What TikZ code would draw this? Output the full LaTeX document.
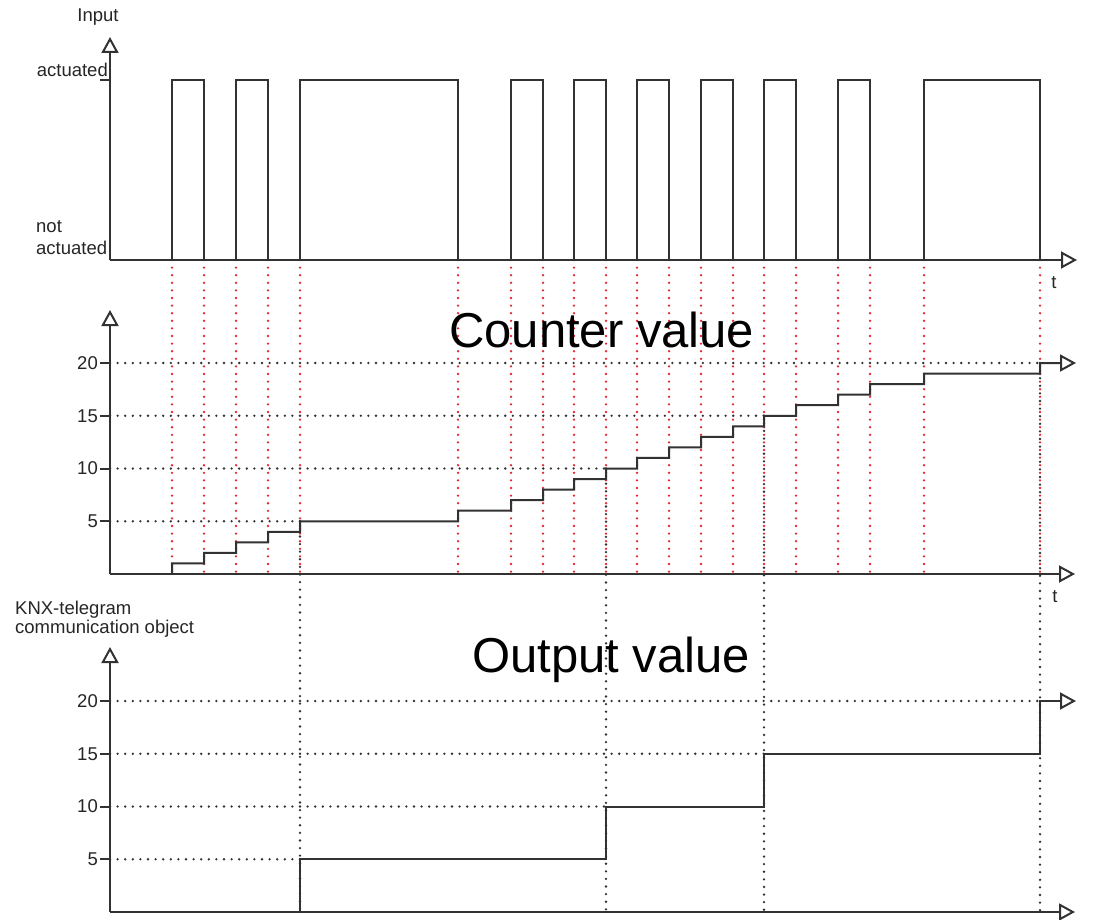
\documentclass[tikz,border=0pt]{standalone}
\usepackage{fontspec}
\setmainfont{Liberation Sans}
\usetikzlibrary{arrows.meta}

\definecolor{linegray}{RGB}{50,50,50}
\definecolor{dotred}{RGB}{228,40,50}

\tikzstyle{axisline} = [draw=linegray, line width=2pt,
    -{Triangle[open, length=16pt, width=17pt]}]
\tikzstyle{stepline} = [draw=linegray, line width=2pt]
\tikzstyle{gridline} = [draw=linegray, line width=2.6pt, line cap=round,
    dash pattern=on 0pt off 7.6pt]
\tikzstyle{edgeline} = [gridline, draw=dotred]
\tikzstyle{ticklabel} = [font=\fontsize{18.5}{21}\selectfont, inner sep=0pt, text=black!85]
\tikzstyle{charttitle} = [font=\fontsize{49}{58}\selectfont, inner sep=0pt]

\begin{document}
\begin{tikzpicture}[x=1pt, y=-1pt]
    \useasboundingbox [fill=white] (0,0) rectangle (1108,920);
    % origins and axis ends
    \coordinate (in0) at (110,260);
    \coordinate (inY) at (110,37);
    \coordinate (inX) at (1077,260);
    \coordinate (cnt0) at (110,574);
    \coordinate (cntY) at (110,310);
    \coordinate (cntX) at (1075,574);
    \coordinate (out0) at (110,912);
    \coordinate (outY) at (110,647);
    \coordinate (outX) at (1075,912);

    % red lines at each edge of the input
    \foreach \x in {172,204,236,268,300,458,511,543,574,606,637,669,701,733,764,796,838,870,924,1040}
        \draw [edgeline] (\x,260) -- (\x,574);

    % grid lines, ticks and values
    \foreach \v/\x in {5/300,10/606,15/764,20/1040} {
        \draw [gridline] (110,{574-10.55*\v}) -- (\x,{574-10.55*\v});
        \draw [gridline] (110,{912-10.55*\v}) -- (\x,{912-10.55*\v});
        \draw [gridline] (\x,{574-10.55*\v}) -- (\x,912);
        \draw [stepline] (100,{574-10.55*\v}) -- (110,{574-10.55*\v});
        \draw [stepline] (100,{912-10.55*\v}) -- (110,{912-10.55*\v});
        \node [ticklabel, anchor=east] (cnt\v) at (98,{574-10.55*\v}) {\v};
        \node [ticklabel, anchor=east] (out\v) at (98,{912-10.55*\v}) {\v};
    }

    % input
    \draw [stepline] (100,80) -- (110,80);
    \foreach \a/\b in {172/204,236/268,300/458,511/543,574/606,637/669,701/733,764/796,838/870,924/1040}
        \draw [stepline] (\a,260) -- (\a,80) -- (\b,80) -- (\b,260);

    % counter value
    \draw [axisline] (172,574)
        foreach \x [count=\n] in {172,204,236,268,300,458,511,543,574,606,637,669,701,733,764,796,838,870,924,1040}
        { -- (\x,{574-10.55*(\n-1)}) -- (\x,{574-10.55*\n}) } -- (1076,363);

    % output value
    \draw [axisline] (300,912) -- (300,859.25) -- (606,859.25) -- (606,806.5)
        -- (764,806.5) -- (764,753.75) -- (1040,753.75) -- (1040,701) -- (1076,701);

    % axes
    \draw [axisline] (in0) -- (inY);
    \draw [axisline] (in0) -- (inX);
    \draw [axisline] (cnt0) -- (cntY);
    \draw [axisline] (cnt0) -- (cntX);
    \draw [axisline] (out0) -- (outY);
    \draw [axisline] (out0) -- (outX);

    % texts
    \node [ticklabel, anchor=base] (input) at (98,22) {Input};
    \node [ticklabel, anchor=base east] (act) at (108,77) {actuated};
    \node [ticklabel, anchor=base west, align=left] (notact) at (36,254) {not\\actuated};
    \node [ticklabel, anchor=base west, align=left, font=\fontsize{18.5}{19}\selectfont] (knx)
        at (15,633) {KNX-telegram\\communication object};
    \node [ticklabel, anchor=base] (t1) at (1054,288) {t};
    \node [ticklabel, anchor=base] (t2) at (1055,602) {t};
    \node [charttitle, anchor=base west] (cnttitle) at (449,347) {Counter value};
    \node [charttitle, anchor=base west] (outtitle) at (472,672) {Output value};
\end{tikzpicture}
\end{document}
